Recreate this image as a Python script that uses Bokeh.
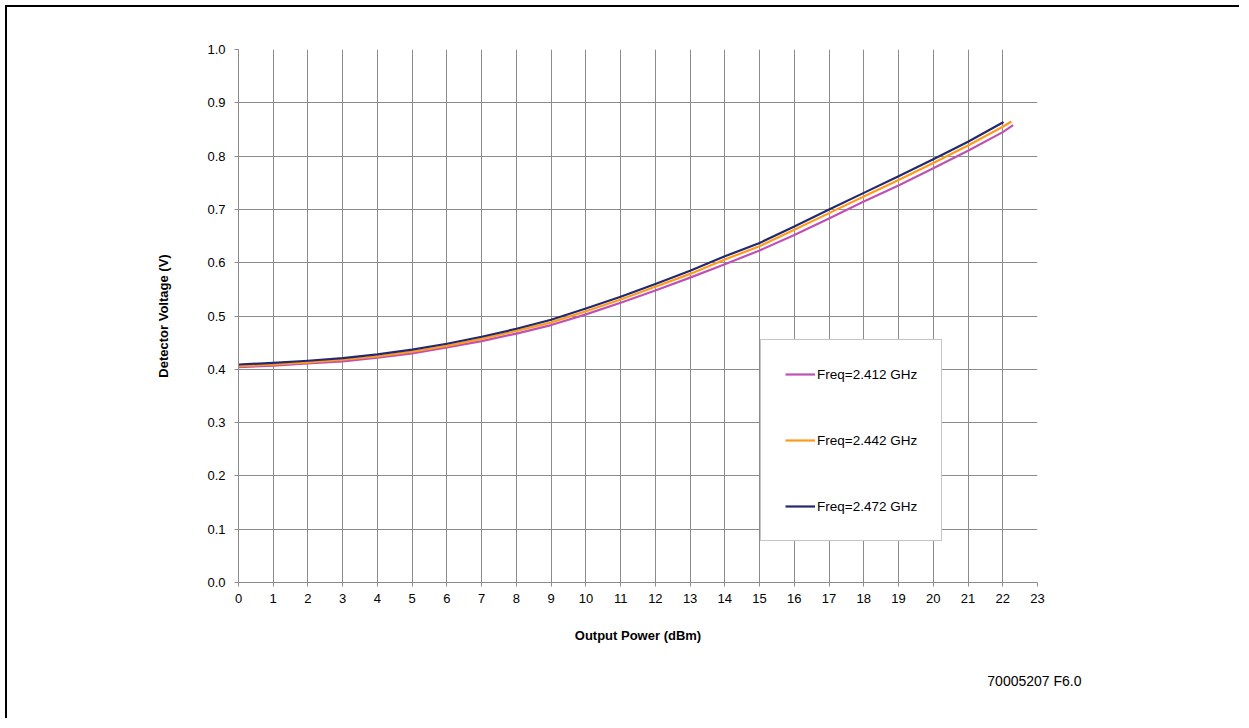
from bokeh.plotting import figure
from bokeh.models import (Legend, LegendItem, Title, FixedTicker, Range1d, CustomJSTickFormatter)
from bokeh.embed import file_html
from bokeh.resources import INLINE

# Data
power_dbm = [0, 1, 2, 3, 4, 5, 6, 7, 8, 9, 10, 11, 12, 13, 14, 15, 16, 17, 18, 19, 20, 21, 22]

v_2412 = [0.404, 0.407, 0.411, 0.415, 0.422, 0.430, 0.441, 0.453, 0.467, 0.483, 0.503, 0.525,
          0.548, 0.572, 0.597, 0.623, 0.652, 0.683, 0.715, 0.745, 0.777, 0.810, 0.845]
v_2442 = [0.406, 0.409, 0.413, 0.418, 0.424, 0.433, 0.444, 0.457, 0.472, 0.488, 0.509, 0.531,
          0.555, 0.579, 0.606, 0.631, 0.662, 0.693, 0.724, 0.755, 0.787, 0.820, 0.855]
v_2472 = [0.409, 0.412, 0.416, 0.421, 0.428, 0.437, 0.448, 0.461, 0.476, 0.493, 0.514, 0.536,
          0.560, 0.585, 0.612, 0.637, 0.668, 0.700, 0.731, 0.762, 0.794, 0.827, 0.863]

# curve end points (curves run slightly past 22 dBm)
end_power = [22.3, 22.25, 22.02]
end_volt = [0.858, 0.865, 0.864]

series_names = ["Freq=2.412 GHz", "Freq=2.442 GHz", "Freq=2.472 GHz"]
series_colors = ["#C050B4", "#FF9A1A", "#24286E"]

x_ticks = list(range(0, 24))
y_ticks = [0.0, 0.1, 0.2, 0.3, 0.4, 0.5, 0.6, 0.7, 0.8, 0.9, 1.0]
footer = "70005207 F6.0"

FONT = "Liberation Sans"
GRID = "#8C8C8C"

p = figure(frame_width=799, frame_height=533,
           min_border_left=231, min_border_top=42, min_border_right=204, min_border_bottom=138,
           x_range=Range1d(0, 23), y_range=Range1d(0, 1.0),
           output_backend="svg", toolbar_location=None, background_fill_color="white",
           border_fill_color="white")
p.outline_line_color = None
p.styles = {"margin": "7px 0 0 7px", "box-shadow": "-2px -2px 0 0 #000000"}

for ax in (p.xaxis, p.yaxis):
    ax.axis_line_color = GRID
    ax.axis_line_width = 1
    ax.major_tick_line_color = GRID
    ax.major_tick_in = 0
    ax.major_tick_out = 4
    ax.minor_tick_line_color = None
    ax.major_label_text_font = FONT
    ax.major_label_text_font_size = "13px"
    ax.major_label_text_color = "#000000"
    ax.axis_label_text_font = FONT
    ax.axis_label_text_font_size = "13px"
    ax.axis_label_text_font_style = "bold"
    ax.axis_label_text_color = "#000000"

p.xaxis.ticker = FixedTicker(ticks=x_ticks)
p.yaxis.ticker = FixedTicker(ticks=y_ticks)
p.yaxis.formatter = CustomJSTickFormatter(code="return tick.toFixed(1);")
p.xaxis.axis_label = "Output Power (dBm)"
p.yaxis.axis_label = "Detector Voltage (V)"
p.xaxis.major_label_standoff = 7
p.yaxis.major_label_standoff = 9
p.xaxis.axis_label_standoff = 22
p.yaxis.axis_label_standoff = 33

p.xgrid.ticker = FixedTicker(ticks=x_ticks)
p.ygrid.ticker = FixedTicker(ticks=y_ticks)
for g in (p.xgrid, p.ygrid):
    g.grid_line_color = GRID
    g.grid_line_width = 1

renderers = []
for vals, ex, ey, col in zip([v_2412, v_2442, v_2472], end_power, end_volt, series_colors):
    xs = power_dbm + [ex]
    ys = vals + [ey]
    r = p.line(xs, ys, line_color=col, line_width=2.2, line_join="round")
    renderers.append(r)

legend = Legend(items=[LegendItem(label=n, renderers=[r]) for n, r in zip(series_names, renderers)],
                location=(522, 41), orientation="vertical",
                glyph_width=30, glyph_height=20, label_height=20, label_standoff=2,
                spacing=46, padding=24, margin=0,
                label_text_font=FONT, label_text_font_size="13.5px", label_text_color="#000000",
                border_line_color="#8C8C8C", border_line_width=1,
                background_fill_color="white", background_fill_alpha=1.0)
p.add_layout(legend, "center")

p.add_layout(Title(text=footer, align="right", offset=-44, standoff=51,
                   text_font=FONT, text_font_size="14px", text_font_style="normal",
                   text_color="#000000"), "below")

open("out.html", "w").write(file_html(p, INLINE))
